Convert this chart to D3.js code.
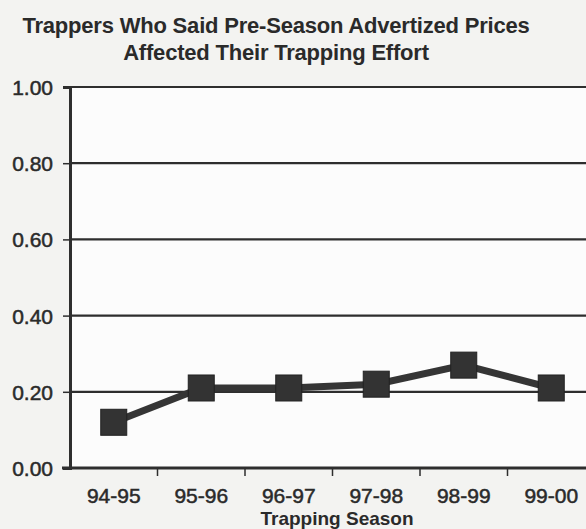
<!DOCTYPE html>
<html><head><meta charset="utf-8">
<script src="https://cdn.jsdelivr.net/npm/d3@7"></script>
<style>
html,body{margin:0;padding:0;background:#f3f3f1;}
svg{display:block;}
text{font-family:"Liberation Sans",Arial,sans-serif;fill:#2a2a2a;}
</style></head>
<body>
<script>
const seasons = ["94-95","95-96","96-97","97-98","98-99","99-00"];
const proportions = [0.12,0.21,0.21,0.22,0.27,0.21];
const yTicks = [0,0.2,0.4,0.6,0.8,1.0];
const titleLines = ["Trappers Who Said Pre-Season Advertized Prices","Affected Their Trapping Effort"];
const xTitle = "Trapping Season";

(function(){
const W=586,H=529;
const svg=d3.select("body").append("svg").attr("width",W).attr("height",H);
const mLeft=70, mRight=595, mTop=87, mBottom=468;

const x=d3.scaleBand().domain(seasons).range([mLeft,mRight]).padding(0);
const y=d3.scaleLinear().domain([0,1]).range([mBottom,mTop]);

svg.append("rect").attr("x",mLeft).attr("y",mTop).attr("width",mRight-mLeft).attr("height",mBottom-mTop).attr("fill","#fcfcfc");

// gridlines
svg.append("g").selectAll("line").data(yTicks.filter(d=>d>0)).join("line")
  .attr("x1",mLeft).attr("x2",mRight).attr("y1",d=>y(d)).attr("y2",d=>y(d))
  .attr("stroke","#2e2e2e").attr("stroke-width",2.2);

// y axis
const ya=svg.append("g").attr("transform",`translate(${mLeft},0)`)
  .call(d3.axisLeft(y).tickValues(yTicks).tickFormat(d3.format(".2f")).tickSize(7).tickPadding(10));
ya.select(".domain").attr("stroke","#2e2e2e").attr("stroke-width",3);
ya.selectAll(".tick line").attr("stroke","#2e2e2e").attr("stroke-width",1.5);
ya.selectAll("text").attr("font-size",21).attr("fill","#2a2a2a").attr("stroke","#2a2a2a").attr("stroke-width",0.5).attr("dy","0.36em");

// x axis
const boundaries=seasons.slice(1).map(s=>x(s));
const xa=svg.append("g").attr("transform",`translate(0,${mBottom})`);
xa.append("line").attr("x1",mLeft-8).attr("x2",mRight).attr("y1",0).attr("y2",0).attr("stroke","#2e2e2e").attr("stroke-width",3);
xa.selectAll("line.tk").data(boundaries).join("line").attr("class","tk")
  .attr("x1",d=>d).attr("x2",d=>d).attr("y1",0).attr("y2",8).attr("stroke","#2e2e2e").attr("stroke-width",1.5);
xa.selectAll("text").data(seasons).join("text")
  .attr("x",d=>x(d)+x.bandwidth()/2).attr("y",35).attr("text-anchor","middle")
  .attr("font-size",21).attr("stroke","#2a2a2a").attr("stroke-width",0.5).text(d=>d);

// line
const line=d3.line().x((d,i)=>x(seasons[i])+x.bandwidth()/2).y(d=>y(d));
svg.append("path").datum(proportions).attr("d",line).attr("fill","none")
  .attr("stroke","#353535").attr("stroke-width",7).attr("stroke-linejoin","miter");

const ms=26;
svg.append("g").selectAll("rect").data(proportions).join("rect")
  .attr("x",(d,i)=>x(seasons[i])+x.bandwidth()/2-ms/2).attr("y",d=>y(d)-ms/2)
  .attr("width",ms).attr("height",ms).attr("fill","#333").attr("stroke","#222").attr("stroke-width",1);

// titles
svg.append("text").attr("x",276).attr("y",33).attr("text-anchor","middle")
  .attr("font-size",22).attr("font-weight","bold").attr("letter-spacing","-0.2").text(titleLines[0]);
svg.append("text").attr("x",276).attr("y",60).attr("text-anchor","middle")
  .attr("font-size",22).attr("font-weight","bold").attr("letter-spacing","-0.2").text(titleLines[1]);
svg.append("text").attr("x",337).attr("y",524.5).attr("text-anchor","middle")
  .attr("font-size",19).attr("font-weight","bold").text(xTitle);
})();
</script>
</body></html>
